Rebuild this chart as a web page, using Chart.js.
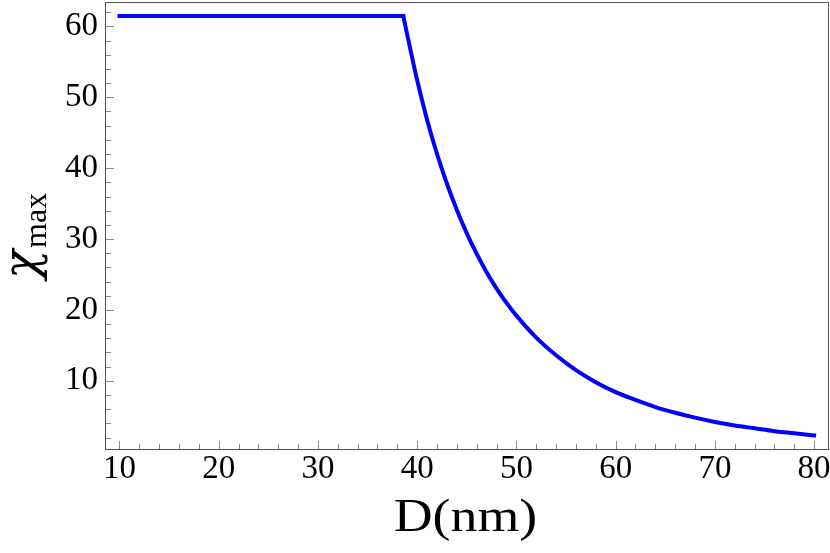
<!DOCTYPE html>
<html><head><meta charset="utf-8">
<script src="https://cdn.jsdelivr.net/npm/chart.js@4/dist/chart.umd.min.js"></script>
<style>html,body{margin:0;padding:0;background:#fff}canvas{display:block}</style>
</head><body>
<canvas id="c" width="830" height="553"></canvas>
<script>
// ---- data ----
const plateauD   = [10, 38.6];
const plateauChi = [61.45, 61.45];
const curveD   = [38.6, 39, 40, 41, 42, 43, 44, 45, 46, 47, 48, 49, 50, 52, 54, 56, 58, 60, 62, 64, 66, 68, 70, 72, 74, 76, 78, 80];
const curveChi = [61.45, 58.8, 52.4, 46.8, 42.0, 37.8, 34.1, 30.8, 27.9, 25.3, 23.0, 21.0, 19.2, 16.1, 13.6, 11.5, 9.8, 8.4, 7.3, 6.3, 5.5, 4.8, 4.2, 3.7, 3.3, 2.9, 2.6, 2.3];
const xTickLabels = [10, 20, 30, 40, 50, 60, 70, 80];
const yTickLabels = [10, 20, 30, 40, 50, 60];
const xMinorTicks = [12, 14, 16, 18, 22, 24, 26, 28, 32, 34, 36, 38, 42, 44, 46, 48, 52, 54, 56, 58, 62, 64, 66, 68, 72, 74, 76, 78];
const yMinorTicks = [2, 4, 6, 8, 12, 14, 16, 18, 22, 24, 26, 28, 32, 34, 36, 38, 42, 44, 46, 48, 52, 54, 56, 58, 62];
const xTitle = 'D(nm)';
const yTitleMain = 'χ';
const yTitleSub = 'max';

const toPts = (xs, ys) => xs.map((v, i) => ({x: v, y: ys[i]}));

const framePlugin = {
  id: 'frame',
  afterDatasetsDraw(chart) {
    const {ctx, chartArea: a, scales: {x, y}} = chart;
    ctx.save();
    ctx.lineWidth = 1;
    ctx.strokeStyle = '#8a8a8a';
    ctx.beginPath();
    const xt = (v, len) => { const p = Math.round(x.getPixelForValue(v)) + 0.5; ctx.moveTo(p, a.bottom - 1); ctx.lineTo(p, a.bottom - 1 - len); };
    const yt = (v, len) => { const p = Math.round(y.getPixelForValue(v)) + 0.5; ctx.moveTo(a.left + 1, p); ctx.lineTo(a.left + 1 + len, p); };
    xMinorTicks.forEach(v => xt(v, 5));
    xTickLabels.forEach(v => xt(v, 8));
    yMinorTicks.forEach(v => yt(v, 5));
    yTickLabels.forEach(v => yt(v, 8));
    ctx.stroke();
    ctx.strokeStyle = '#555';
    ctx.strokeRect(a.left + 0.5, a.top + 0.5, a.right - a.left - 1, a.bottom - a.top - 1);
    ctx.restore();
  },
  afterDraw(chart) {
    const {ctx, chartArea: a} = chart;
    ctx.save();
    ctx.fillStyle = '#000';
    // x title
    ctx.font = '46px "Liberation Serif"';
    ctx.textAlign = 'center';
    ctx.textBaseline = 'alphabetic';
    ctx.save();
    ctx.translate((a.left + a.right) / 2 - 1.5, 531);
    ctx.scale(1.17, 1);
    ctx.fillText(xTitle, 0, 0);
    ctx.restore();
    // y title (rotated)
    ctx.save();
    ctx.translate(37, 279);
    ctx.rotate(-Math.PI / 2);
    ctx.textAlign = 'left';
    ctx.font = 'italic 48px "DejaVu Serif"';
    ctx.fillText(yTitleMain, 0, 0);
    const w = ctx.measureText(yTitleMain).width;
    ctx.font = '32px "Liberation Serif"';
    ctx.fillText(yTitleSub, w + 2, 9);
    ctx.restore();
    ctx.restore();
  }
};

new Chart(document.getElementById('c'), {
  type: 'line',
  data: {
    datasets: [
      { data: toPts(plateauD, plateauChi), borderColor: '#0000ff', borderWidth: 4, pointRadius: 0, tension: 0, borderCapStyle: 'square' },
      { data: toPts(curveD, curveChi), borderColor: '#0000ff', borderWidth: 4, pointRadius: 0, cubicInterpolationMode: 'monotone', borderCapStyle: 'square' }
    ]
  },
  options: {
    responsive: false,
    animation: false,
    layout: { padding: { top: 2, right: 1, left: 0, bottom: 0 } },
    plugins: { legend: { display: false }, tooltip: { enabled: false } },
    scales: {
      x: {
        type: 'linear', min: 8.54, max: 81.5,
        grid: { display: false, drawTicks: false }, border: { display: false },
        afterBuildTicks: s => { s.ticks = xTickLabels.map(v => ({value: v})); },
        afterFit: s => { s.height = 103; s.paddingLeft = 0; s.paddingRight = 0; },
        ticks: { color: '#000', padding: 3, maxRotation: 0, autoSkip: false, font: { family: 'Liberation Serif', size: 33, lineHeight: 1 } }
      },
      y: {
        type: 'linear', min: 0.24, max: 63.44,
        grid: { display: false, drawTicks: false }, border: { display: false },
        afterBuildTicks: s => { s.ticks = yTickLabels.map(v => ({value: v})); },
        afterFit: s => { s.width = 105; s.paddingTop = 0; s.paddingBottom = 0; },
        ticks: { color: '#000', padding: 7, autoSkip: false, font: { family: 'Liberation Serif', size: 33, lineHeight: 1 } }
      }
    }
  },
  plugins: [framePlugin]
});
</script>
</body></html>
